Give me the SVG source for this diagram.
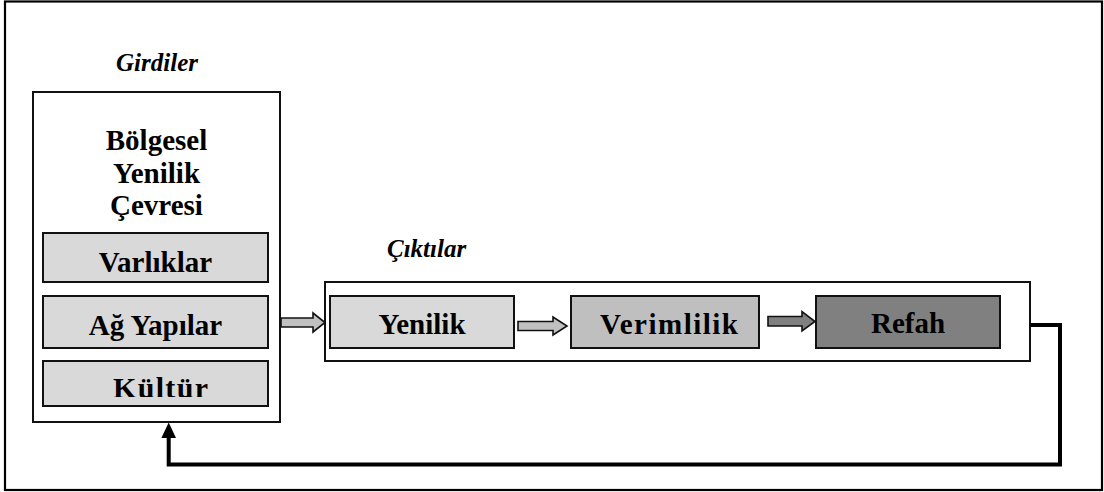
<svg xmlns="http://www.w3.org/2000/svg" width="1104" height="492" viewBox="0 0 1104 492">
  <style>
    .t { font-family: "Liberation Serif", "Times New Roman", serif; font-weight: bold; fill: #000; }
    .big { font-size: 29px; text-anchor: middle; }
    .hdr { font-size: 25px; font-style: italic; }
    .box { stroke: #111; stroke-width: 2; }
    .arr { stroke: #111; stroke-width: 1.6; stroke-linejoin: miter; }
  </style>
  <defs>
    <clipPath id="kclip"><rect x="43" y="361" width="225" height="36"/></clipPath>
  </defs>
  <rect x="0" y="0" width="1104" height="492" fill="#fff"/>
  <rect id="frame" x="5" y="1.5" width="1097" height="488.5" fill="none" stroke="#000" stroke-width="2.2"/>

  <g id="girdiler">
    <text class="t hdr" x="157" y="71" text-anchor="middle">Girdiler</text>
    <rect class="box" x="33" y="92" width="247" height="330" fill="#fff"/>
    <text class="t big" x="156.5" y="150">Bölgesel</text>
    <text class="t big" x="156.5" y="183">Yenilik</text>
    <text class="t big" x="156.5" y="215">Çevresi</text>
  </g>
  <g id="varliklar">
    <rect class="box" x="43" y="233" width="225" height="49" fill="#d9d9d9"/>
    <text class="t big" x="155.5" y="271.5">Varlıklar</text>
  </g>
  <g id="ag-yapilar">
    <rect class="box" x="43" y="296" width="225" height="52" fill="#d9d9d9"/>
    <text class="t big" x="155.5" y="335">Ağ Yapılar</text>
  </g>
  <g id="kultur">
    <rect class="box" x="43" y="361" width="225" height="45" fill="#d9d9d9"/>
    <text class="t" font-size="30" x="113" y="398" textLength="95" lengthAdjust="spacing" clip-path="url(#kclip)">Kültür</text>
  </g>

  <g id="ciktilar">
    <text class="t hdr" x="387" y="257">Çıktılar</text>
    <rect class="box" x="325" y="282" width="705" height="79" fill="#fff"/>
  </g>
  <g id="yenilik">
    <rect class="box" x="330" y="296" width="184" height="52" fill="#d9d9d9"/>
    <text class="t big" x="422" y="334">Yenilik</text>
  </g>
  <g id="verimlilik">
    <rect class="box" x="571" y="296" width="188" height="52" fill="#bfbfbf"/>
    <text class="t" font-size="29" x="600" y="333.5" textLength="138" lengthAdjust="spacing">Verimlilik</text>
  </g>
  <g id="refah">
    <rect class="box" x="816" y="296" width="184" height="52" fill="#808080"/>
    <text class="t big" x="908" y="333">Refah</text>
  </g>

  <g id="connectors">
    <polygon class="arr" fill="#c0c0c0" points="281,318 313,318 313,313 325,322.5 313,332 313,327 281,327"/>
    <polygon class="arr" fill="#c0c0c0" points="518,321.5 553,321.5 553,317 567,326 553,335 553,330.5 518,330.5"/>
    <polygon class="arr" fill="#808080" points="768,316.5 802,316.5 802,311.5 815,321.5 802,331 802,326 768,326"/>
    <polyline points="1030,325 1060,325 1060,464.5 168.7,464.5 168.7,436" fill="none" stroke="#000" stroke-width="4"/>
    <polygon points="168.7,422.5 176,438 161.4,438" fill="#000"/>
  </g>
</svg>
